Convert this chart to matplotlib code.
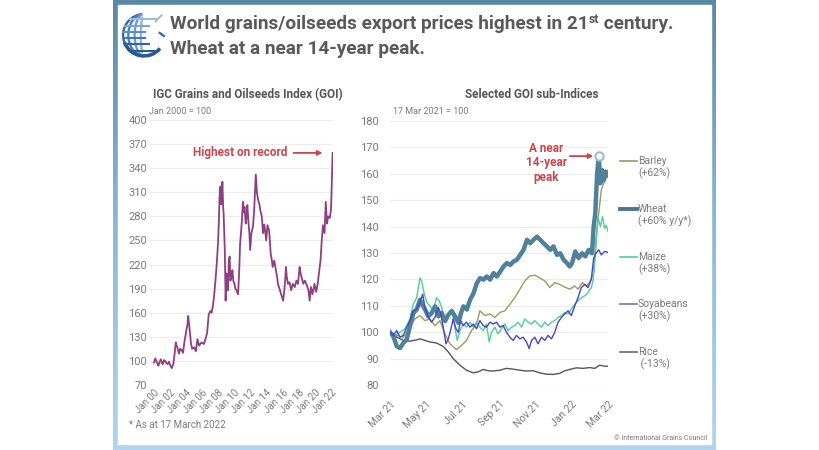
import numpy as np
import matplotlib
matplotlib.use("Agg")
import matplotlib.pyplot as plt
from matplotlib.patches import Rectangle, Arc
from matplotlib.colors import LinearSegmentedColormap

# ---- data: IGC Grains and Oilseeds Index (Jan 2000 = 100) ----
goi_years = [2000.0, 2000.15, 2000.3, 2000.45, 2000.55, 2000.7, 2000.85, 2001.0, 2001.1, 2001.25,
             2001.4, 2001.55, 2001.7, 2001.85, 2002.0, 2002.2, 2002.4, 2002.55, 2002.7, 2002.8,
             2002.9, 2003.1, 2003.25, 2003.4, 2003.6, 2003.8, 2004.0, 2004.15, 2004.25, 2004.4,
             2004.6, 2004.75, 2005.0, 2005.2, 2005.4, 2005.6, 2005.9, 2006.2, 2006.45, 2006.6,
             2006.8, 2007.0, 2007.15, 2007.3, 2007.45, 2007.6, 2007.8, 2007.95, 2008.05, 2008.15,
             2008.25, 2008.35, 2008.4, 2008.5, 2008.6, 2008.65, 2008.8, 2008.9, 2009.0, 2009.1,
             2009.2, 2009.3, 2009.4, 2009.5, 2009.6, 2009.75, 2009.85, 2010.0, 2010.1, 2010.25,
             2010.45, 2010.6, 2010.7, 2010.9, 2011.05, 2011.15, 2011.25, 2011.4, 2011.5, 2011.6,
             2011.75, 2011.85, 2011.95, 2012.1, 2012.3, 2012.45, 2012.55, 2012.65, 2012.8, 2012.95,
             2013.1, 2013.2, 2013.4, 2013.55, 2013.7, 2013.8, 2013.95, 2014.1, 2014.3, 2014.4,
             2014.5, 2014.65, 2014.75, 2014.95, 2015.15, 2015.3, 2015.4, 2015.6, 2015.8, 2016.05,
             2016.2, 2016.3, 2016.4, 2016.5, 2016.65, 2016.85, 2017.05, 2017.25, 2017.5, 2017.7,
             2017.9, 2018.1, 2018.2, 2018.35, 2018.55, 2018.75, 2019.0, 2019.2, 2019.35, 2019.5,
             2019.7, 2019.95, 2020.15, 2020.35, 2020.5, 2020.7, 2020.85, 2021.0, 2021.2, 2021.35,
             2021.5, 2021.65, 2021.85, 2022.0, 2022.1, 2022.2]
goi_vals = [98, 103, 100, 96, 94, 99, 102, 97, 96, 101,
            100, 97, 96, 99, 95, 91, 96, 108, 123, 119,
            117, 109, 115, 114, 110, 125, 137, 145, 156, 142,
            121, 115, 117, 112, 127, 119, 123, 121, 129, 135,
            158, 162, 160, 167, 179, 196, 221, 246, 270, 305,
            317, 295, 300, 323, 290, 284, 238, 175, 209, 195,
            188, 225, 230, 200, 204, 213, 200, 196, 190, 188,
            183, 215, 246, 271, 298, 285, 292, 271, 280, 294,
            271, 260, 238, 259, 267, 288, 310, 332, 309, 300,
            295, 288, 280, 259, 270, 263, 250, 269, 263, 250,
            234, 225, 217, 225, 213, 205, 196, 190, 183, 175,
            188, 200, 217, 205, 196, 198, 188, 196, 192, 200,
            196, 217, 210, 204, 196, 200, 194, 188, 175, 192,
            183, 196, 186, 196, 209, 225, 250, 269, 259, 298,
            271, 280, 278, 288, 321, 359]

# ---- data: selected GOI sub-indices (17 Mar 2021 = 100), x = months after 17 Mar 2021 ----
wheat_m = [0, 0.18, 0.37, 0.55, 0.74, 0.92, 1.1, 1.29, 1.47, 1.65, 1.78, 1.93, 2.11, 2.3, 2.48,
           2.67, 2.85, 3.03, 3.22, 3.4, 3.58, 3.77, 3.91, 4.04, 4.23, 4.41, 4.6, 4.78, 4.96, 5.15,
           5.33, 5.51, 5.7, 5.88, 6.07, 6.25, 6.43, 6.62, 6.8, 6.98, 7.17, 7.35, 7.54, 7.72, 7.9,
           8.09, 8.27, 8.45, 8.64, 8.82, 9.0, 9.19, 9.37, 9.56, 9.74, 9.89, 10.02, 10.2, 10.38,
           10.57, 10.75, 10.94, 11.12, 11.21, 11.3, 11.4, 11.49, 11.58, 11.67, 11.76, 11.86, 12]
wheat_v = [100, 98.5, 94.7, 94, 96, 97.2, 102.3, 107.3, 108.6, 112.3, 110.4, 108.6, 106, 107.3, 109.8,
           106, 107.3, 104.2, 106.7, 108, 106, 103.5, 107.3, 109.8, 108.6, 112.3, 114.8, 118.6, 120.5, 119.9,
           121.1, 119.9, 122.4, 121.1, 123, 124.9, 126.2, 125.5, 126.8, 127.4, 129.3, 131.2, 135, 133.7, 135,
           136.2, 135, 133.7, 132.5, 131.2, 132.5, 129.3, 129.9, 127.4, 126.2, 124.9, 126.2, 130.6, 128.1,
           129.9, 128.7, 131.2, 129.9, 140, 145, 160, 166.7, 156.4, 161.4, 157.6, 160.8, 159.5]

barley_m = [0, 0.37, 0.73, 1.1, 1.37, 1.65, 1.92, 2.2, 2.47, 2.75, 3.02, 3.3, 3.66, 3.94, 4.21,
            4.49, 4.76, 4.95, 5.22, 5.5, 5.77, 6.05, 6.32, 6.6, 6.87, 7.15, 7.42, 7.69, 7.97, 8.24,
            8.52, 8.79, 9.07, 9.34, 9.62, 9.89, 10.17, 10.35, 10.59, 10.81, 11.0, 11.21, 11.34,
            11.49, 11.63, 11.76, 11.88, 12]
barley_v = [100, 98.8, 98, 102, 105, 106.3, 104.4, 105, 102.5, 104.4, 99.4, 95.6, 93.4, 95, 96.9,
            100.6, 103.1, 108.1, 106.3, 106.9, 105.6, 107.5, 108.1, 110.6, 113.1, 116.3, 119.4, 121.3, 121.6, 120.6,
            119.4, 116.9, 118.8, 118.1, 117.1, 116.3, 117.5, 116.3, 118.8, 117.5, 119, 122.4, 135,
            145, 153.8, 156.4, 158, 161.5]

maize_m = [0, 0.27, 0.55, 0.82, 1.1, 1.28, 1.47, 1.65, 1.74, 1.87, 2.02, 2.2, 2.38, 2.56, 2.71,
           2.84, 3.02, 3.2, 3.39, 3.57, 3.7, 3.85, 4.03, 4.21, 4.4, 4.58, 4.76, 4.95, 5.13, 5.31,
           5.46, 5.59, 5.77, 5.95, 6.14, 6.32, 6.5, 6.69, 6.87, 7.05, 7.24, 7.42, 7.6, 7.79, 7.97,
           8.15, 8.34, 8.52, 8.7, 8.89, 9.07, 9.25, 9.44, 9.62, 9.8, 9.98, 10.17, 10.35, 10.53,
           10.72, 10.9, 11.08, 11.17, 11.3, 11.44, 11.58, 11.7, 11.81, 11.9, 12]
maize_v = [100, 98.8, 100, 101.3, 105, 110.6, 113.1, 120.6, 119.4, 115, 111.3, 110, 108.1, 113.1, 111.9,
           109.4, 104.4, 106.9, 108.8, 101.9, 96.9, 100.6, 103.1, 101.9, 103.8, 101.9, 103.8, 101.9, 100.6, 103.1,
           96.3, 100, 101.9, 99.4, 101.3, 103.1, 100.6, 101.9, 102.5, 103.8, 101.9, 105, 103.8, 103.1, 104.4,
           103.1, 101.9, 103.8, 102.5, 103.8, 104.4, 105.6, 106.3, 107.5, 106.9, 108.8, 110.6, 111.9, 113.1,
           113.8, 115, 116.9, 119.4, 128.7, 143.8, 140, 143.8, 139.4, 140.5, 138.2]

soy_m = [0, 0.18, 0.37, 0.55, 0.73, 0.92, 1.1, 1.28, 1.47, 1.65, 1.8, 1.92, 2.11, 2.29, 2.47,
         2.66, 2.8, 2.93, 3.08, 3.21, 3.33, 3.48, 3.63, 3.76, 3.88, 4.03, 4.21, 4.4, 4.58, 4.76,
         4.95, 5.13, 5.31, 5.5, 5.68, 5.86, 6.05, 6.23, 6.41, 6.6, 6.78, 6.96, 7.15, 7.33, 7.51,
         7.66, 7.79, 7.97, 8.15, 8.34, 8.52, 8.7, 8.89, 9.07, 9.25, 9.44, 9.62, 9.8, 9.98, 10.17,
         10.35, 10.53, 10.72, 10.9, 11.08, 11.21, 11.34, 11.49, 11.63, 11.81, 12]
soy_v = [100, 98.8, 100.6, 98.1, 98.8, 101.9, 104.4, 108.1, 108.8, 111.3, 114.4, 109.4, 105.6, 103.8, 105.6,
         109.4, 106.9, 101.9, 95.6, 97.5, 100.6, 105, 101.3, 100, 104.4, 102.5, 103.8, 101.9, 103.1, 101.3,
         104.4, 102.5, 101.9, 103.8, 103.1, 103.8, 101.9, 102.5, 100, 98.1, 96.9, 98.8, 97.5, 98.1, 96.3,
         93.8, 96.9, 98.1, 95.6, 98.1, 96.9, 98.8, 97.5, 100, 103.8, 105.6, 106.9, 108.1, 106.3, 110,
         113.1, 116.9, 118.1, 116.9, 120, 128, 130, 131.2, 129.3, 130.6, 130.2]

rice_m = [0, 0.37, 0.73, 1.1, 1.47, 1.65, 1.92, 2.2, 2.56, 2.93, 3.21, 3.48, 3.85, 4.21, 4.58,
          4.86, 5.13, 5.4, 5.68, 6.05, 6.41, 6.78, 7.15, 7.51, 7.88, 8.24, 8.61, 8.98, 9.34, 9.62,
          9.89, 10.26, 10.63, 11.0, 11.27, 11.54, 11.82, 12]
rice_v = [100, 98.1, 96.9, 96.6, 97.1, 97.5, 96.9, 96.3, 95.9, 94.6, 92.5, 90, 87.5, 85.6, 84.6,
          85, 85.9, 85.4, 85.3, 85.6, 86.3, 86, 85.6, 85.3, 85.4, 84.6, 84.1, 84, 84.4, 85.4,
          85.9, 86.5, 86.3, 86.6, 86.3, 87.5, 87.1, 87.1]

left_ticks = [2000, 2002, 2004, 2006, 2008, 2010, 2012, 2014, 2016, 2018, 2020, 2022]
left_labels = ["Jan 00", "Jan 02", "Jan 04", "Jan 06", "Jan 08", "Jan 10",
               "Jan 12", "Jan 14", "Jan 16", "Jan 18", "Jan 20", "Jan 22"]
right_ticks = [0, 2, 4, 6, 8, 10, 12]
right_labels = ["Mar 21", "May 21", "Jul 21", "Sep 21", "Nov 21", "Jan 22", "Mar 22"]

legend_names = ["Barley", "Wheat", "Maize", "Soyabeans", "Rice"]
legend_notes = ["(+62%)", "(+60% y/y*)", "(+38%)", "(+30%)", " (-13%)"]

W, H = 820, 450
FONT = "Roboto"
GRAY = "#7a7a7a"
RED = "#c9474b"
col_barley = "#9c9a60"
col_wheat = "#50819b"
col_maize = "#4fcf95"
col_soy = "#4646c6"
col_rice = "#555555"


def fx(px):
    return px / W


def fy(py):
    return 1 - py / H


fig = plt.figure(figsize=(8.2, 4.5), dpi=100)
fig.patch.set_facecolor("white")

# frame with gradient border
bg = fig.add_axes([fx(113), 0, fx(716) - fx(113), 1], zorder=0)
grad = np.linspace(0, 1, 256).reshape(-1, 1)
cm = LinearSegmentedColormap.from_list("frame", ["#5a8aa3", "#8db8d6", "#b2d5ef"])
bg.imshow(grad, aspect="auto", cmap=cm, extent=[0, 1, 0, 1])
bg.add_patch(Rectangle((5 / 603, 6 / 450), 1 - 10 / 603, 1 - 10.5 / 450, color="white", zorder=2))
bg.set_xlim(0, 1)
bg.set_ylim(0, 1)
bg.axis("off")

# logo
lg = fig.add_axes([fx(121), fy(58), fx(46), 46 / H], zorder=3)
lg.set_xlim(-1.1, 1.1)
lg.set_ylim(-1.1, 1.1)
lg.set_aspect("equal")
lg.axis("off")
for w, c in zip([1.0, 0.75, 0.45, 0.15], ["#2f6aa8", "#4a82bb", "#6d9ccb", "#90b5d9"]):
    lg.add_patch(Arc((0, 0), 2 * w, 2, theta1=95, theta2=265, color=c, lw=1.7))
for yy, c in zip([0.75, 0.45, 0.15, -0.15, -0.45, -0.75],
                 ["#9dbde0", "#7aa5d3", "#5b8fc6", "#3f78b4", "#2f66a2", "#2b5c94"]):
    xl = -np.sqrt(1 - yy ** 2)
    lg.plot([xl, xl + 1.0 + 0.3 * abs(yy)], [yy, yy], color=c, lw=1.5)
lg.add_patch(Arc((0, 0), 2.0, 2.0, theta1=200, theta2=320, color="#2a5a92", lw=2.6))
lg.plot([0.55, 0.85], [0.65, 0.95], color="#8fb3d8", lw=1.2)
lg.plot([0.75, 0.95], [0.1, -0.05], color="#2f6aa8", lw=1.6)

# title with superscript
r = fig.canvas.get_renderer()
ty1, ty2 = fy(29), fy(54)
tkw = dict(family=FONT, fontweight="bold", color="#595959", va="baseline", zorder=5)
t1 = fig.text(fx(170), ty1, "World grains/oilseeds export prices highest in 21", fontsize=13.7, **tkw)
b1 = t1.get_window_extent(r)
t2 = fig.text(b1.x1 / W, ty1 + 6 / H, "st", fontsize=8.7, **tkw)
b2 = t2.get_window_extent(r)
fig.text(b2.x1 / W, ty1, " century.", fontsize=13.7, **tkw)
fig.text(fx(170), ty2, "Wheat at a near 14-year peak.", fontsize=13.7, **tkw)

# ---- left chart ----
ax1 = fig.add_axes([fx(150), fy(385), fx(333) - fx(150), (385 - 120) / H], zorder=4)
ax1.set_facecolor("none")
ax1.plot(goi_years, goi_vals, color="#8e3f82", lw=1.3)
ax1.set_xlim(1999.5, 2022.25)
ax1.set_ylim(70, 400)
ax1.set_yticks(range(70, 401, 30))
ax1.set_xticks(left_ticks)
ax1.set_xticklabels(left_labels, rotation=45, ha="right", rotation_mode="anchor")
ax1.grid(axis="y", color="#ececec", lw=0.8)
ax1.set_axisbelow(True)
for s in ax1.spines.values():
    s.set_visible(False)
ax1.tick_params(axis="y", length=0, labelsize=8, labelcolor=GRAY, pad=2)
ax1.tick_params(axis="x", length=0, labelsize=7, labelcolor=GRAY, pad=2)
for lab in ax1.get_xticklabels() + ax1.get_yticklabels():
    lab.set_family(FONT)
ax1.annotate("", xy=(2021.3, 359), xytext=(2017.0, 359),
             arrowprops=dict(arrowstyle="-|>", color=RED, lw=1.3, mutation_scale=7))
ax1.text(2016.6, 359, "Highest on record", color=RED, fontsize=8.5, fontweight="bold",
         family=FONT, ha="right", va="center")

# ---- right chart ----
ax2 = fig.add_axes([fx(390), fy(385), fx(608) - fx(390), (385 - 121) / H], zorder=4)
ax2.set_facecolor("none")
ax2.plot(barley_m, barley_v, color=col_barley, lw=1.0)
ax2.plot(rice_m, rice_v, color=col_rice, lw=1.0)
ax2.plot(maize_m, maize_v, color=col_maize, lw=1.0)
ax2.plot(wheat_m, wheat_v, color=col_wheat, lw=3.2, solid_joinstyle="round")
ax2.plot(soy_m, soy_v, color=col_soy, lw=1.0)
ax2.plot([wheat_m[66]], [wheat_v[66]], marker="o", ms=6, mfc="white", mec="#9dbcd0", mew=1.5)
ax2.set_xlim(0, 12)
ax2.set_ylim(80, 180)
ax2.set_yticks(range(80, 181, 10))
ax2.set_xticks(right_ticks)
ax2.set_xticklabels(right_labels, rotation=45, ha="right", rotation_mode="anchor")
ax2.grid(axis="y", color="#ececec", lw=0.8)
ax2.set_axisbelow(True)
for s in ax2.spines.values():
    s.set_visible(False)
ax2.tick_params(axis="y", length=0, labelsize=8, labelcolor=GRAY, pad=8)
ax2.tick_params(axis="x", length=0, labelsize=7.5, labelcolor=GRAY, pad=10)
for lab in ax2.get_xticklabels() + ax2.get_yticklabels():
    lab.set_family(FONT)
ax2.annotate("", xy=(11.35, 166.7), xytext=(9.75, 166.7),
             arrowprops=dict(arrowstyle="-|>", color=RED, lw=1.3, mutation_scale=7))
ax2.text(8.6, 164.1, "A near\n14-year\npeak", color=RED, fontsize=8.5, fontweight="bold",
         family=FONT, ha="center", va="center", linespacing=1.15)

# legend on the right
leg_cols = [col_barley, "#4a7590", col_maize, "#7474aa", "#6a6a6a"]
leg_lw = [1.2, 2.8, 1.2, 1.2, 1.2]
leg_y = [161, 209, 257, 304, 352]
for name, note, c, lw, py in zip(legend_names, legend_notes, leg_cols, leg_lw, leg_y):
    fig.add_artist(plt.Line2D([fx(620), fx(637)], [fy(py), fy(py)], color=c, lw=lw, zorder=5))
    fig.text(fx(638), fy(py), name, color=GRAY, fontsize=7.5, family=FONT, va="center", zorder=5)
    fig.text(fx(638), fy(py + 12), note, color=GRAY, fontsize=7.5, family=FONT, va="center", zorder=5)

# sub-titles and notes
fig.text(fx(248), fy(95), "IGC Grains and Oilseeds Index (GOI)", ha="center", va="center",
         fontsize=8.5, fontweight="bold", family=FONT, color="#555555", zorder=5)
fig.text(fx(532), fy(95), "Selected GOI sub-Indices", ha="center", va="center",
         fontsize=8.5, fontweight="bold", family=FONT, color="#555555", zorder=5)
fig.text(fx(149), fy(112), "Jan 2000 = 100", va="center", fontsize=6.5, family=FONT,
         color=GRAY, zorder=5)
fig.text(fx(393), fy(112), "17 Mar 2021 = 100", va="center", fontsize=6.5, family=FONT,
         color=GRAY, zorder=5)
fig.text(fx(129), fy(425), "* As at 17 March 2022", va="center", fontsize=7, family=FONT,
         color=GRAY, zorder=5)
fig.text(fx(707), fy(438), "\u00a9 International Grains Council", va="center", ha="right",
         fontsize=5, family=FONT, color=GRAY, zorder=5)

fig.savefig("out.png", dpi=100)
